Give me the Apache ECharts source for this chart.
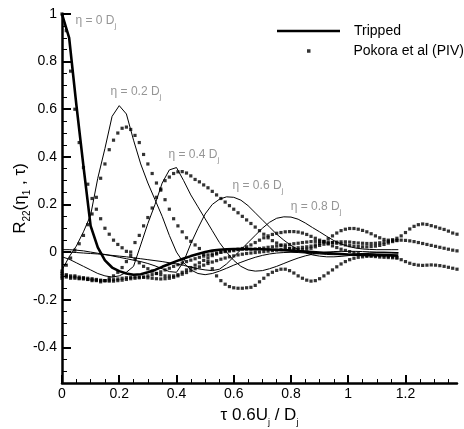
<!DOCTYPE html>
<html><head><meta charset="utf-8">
<script src="https://cdn.jsdelivr.net/npm/echarts@6/dist/echarts.min.js"></script>
<style>html,body{margin:0;padding:0;background:#fff}#c{width:464px;height:429px}</style>
</head><body><div id="c"></div>
<script>
// ---- Tripped (computed) curves ----
const tauTripped = [0,0.025,0.05,0.075,0.1,0.125,0.15,0.175,0.2,0.225,0.25,0.275,0.3,0.325,0.35,0.375,0.4,0.425,0.45,0.475,0.5,0.525,0.55,0.575,0.6,0.625,0.65,0.675,0.7,0.725,0.75,0.775,0.8,0.825,0.85,0.875,0.9,0.925,0.95,0.975,1.0,1.025,1.05,1.075,1.1,1.125,1.15,1.175];
const tripped0 = [1.0,0.9,0.62,0.36,0.11,0.02,-0.035,-0.065,-0.08,-0.09,-0.095,-0.093,-0.085,-0.075,-0.062,-0.05,-0.038,-0.027,-0.017,-0.008,0.0,0.006,0.01,0.012,0.013,0.013,0.013,0.012,0.012,0.011,0.01,0.008,0.006,0.004,0.002,0.0,-0.002,-0.004,-0.006,-0.008,-0.01,-0.011,-0.012,-0.012,-0.013,-0.013,-0.014,-0.015];
const tripped02 = [-0.076,-0.02,0.025,0.085,0.155,0.31,0.435,0.57,0.615,0.58,0.47,0.37,0.29,0.22,0.15,0.07,0.0,-0.045,-0.075,-0.09,-0.095,-0.09,-0.08,-0.068,-0.055,-0.043,-0.032,-0.022,-0.014,-0.008,-0.004,-0.002,-0.001,-0.002,-0.004,-0.006,-0.008,-0.01,-0.011,-0.011,-0.01,-0.008,-0.006,-0.004,-0.003,-0.003,-0.004,-0.005];
const tripped04 = [-0.02,-0.03,-0.045,-0.06,-0.075,-0.09,-0.1,-0.105,-0.1,-0.085,-0.06,0.03,0.12,0.2,0.29,0.345,0.355,0.3,0.24,0.19,0.14,0.09,0.04,0.0,-0.035,-0.06,-0.075,-0.08,-0.078,-0.07,-0.06,-0.048,-0.036,-0.025,-0.016,-0.009,-0.004,0.0,0.002,0.003,0.003,0.003,0.002,0.001,0.0,0.0,-0.001,-0.002];
const tripped06 = [0.01,0.01,0.008,0.005,0.0,-0.005,-0.01,-0.016,-0.022,-0.028,-0.034,-0.04,-0.048,-0.058,-0.07,-0.082,-0.085,-0.04,0.035,0.1,0.16,0.2,0.222,0.232,0.23,0.218,0.195,0.165,0.135,0.105,0.075,0.05,0.028,0.01,-0.003,-0.012,-0.017,-0.02,-0.02,-0.018,-0.015,-0.012,-0.008,-0.005,-0.003,-0.002,-0.002,-0.003];
const tripped08 = [0.0,0.0,-0.002,-0.004,-0.006,-0.008,-0.011,-0.014,-0.017,-0.02,-0.024,-0.028,-0.032,-0.036,-0.04,-0.045,-0.05,-0.056,-0.063,-0.07,-0.075,-0.078,-0.072,-0.05,-0.02,0.01,0.04,0.07,0.1,0.125,0.142,0.148,0.147,0.138,0.122,0.103,0.085,0.066,0.048,0.034,0.024,0.017,0.013,0.011,0.01,0.01,0.01,0.01];

// ---- Pokora et al (PIV) ----
const tauPIV = [0,0.015,0.03,0.045,0.06,0.075,0.09,0.105,0.12,0.135,0.15,0.165,0.18,0.195,0.21,0.225,0.24,0.255,0.27,0.285,0.3,0.315,0.33,0.345,0.36,0.375,0.39,0.405,0.42,0.435,0.45,0.465,0.48,0.495,0.51,0.525,0.54,0.555,0.57,0.585,0.6,0.615,0.63,0.645,0.66,0.675,0.69,0.705,0.72,0.735,0.75,0.765,0.78,0.795,0.81,0.825,0.84,0.855,0.87,0.885,0.9,0.915,0.93,0.945,0.96,0.975,0.99,1.005,1.02,1.035,1.05,1.065,1.08,1.095,1.11,1.125,1.14,1.155,1.17,1.185,1.2,1.215,1.23,1.245,1.26,1.275,1.29,1.305,1.32,1.335,1.35,1.365,1.38];
const piv0 = [1.0,0.93,0.76,0.6,0.46,0.355,0.285,0.225,0.18,0.14,
  0.1,0.075,0.05,0.032,0.018,0.003,-0.015,-0.03,-0.045,-0.06,
  -0.07,-0.08,-0.09,-0.095,-0.1,-0.1,-0.1,-0.095,-0.085,-0.075,
  -0.065,-0.055,-0.045,-0.035,-0.025,-0.015,-0.008,0.0,0.005,0.008,
  0.01,0.012,0.012,0.012,0.012,0.013,0.015,0.017,0.02,0.022,
  0.025,0.027,0.03,0.032,0.035,0.037,0.04,0.042,0.044,0.045,
  0.045,0.044,0.042,0.04,0.037,0.034,0.03,0.027,0.025,0.023,
  0.022,0.022,0.023,0.025,0.028,0.032,0.038,0.044,0.048];
const piv02 = [-0.08,-0.055,-0.025,0.008,0.035,0.07,0.115,0.16,0.23,0.31,
  0.37,0.43,0.47,0.5,0.52,0.525,0.515,0.49,0.46,0.41,
  0.37,0.33,0.29,0.26,0.22,0.18,0.14,0.11,0.085,0.06,
  0.045,0.03,0.015,-0.01,-0.04,-0.07,-0.1,-0.12,-0.135,-0.145,
  -0.15,-0.152,-0.152,-0.15,-0.148,-0.14,-0.125,-0.11,-0.095,-0.085,
  -0.077,-0.072,-0.072,-0.078,-0.088,-0.1,-0.11,-0.118,-0.122,-0.12,
  -0.112,-0.1,-0.088,-0.075,-0.062,-0.05,-0.04,-0.032,-0.026,-0.022,
  -0.02,-0.018,-0.016,-0.015,-0.015,-0.016,-0.018,-0.02,-0.025,-0.032,
  -0.04,-0.047,-0.052,-0.055,-0.056,-0.055,-0.054,-0.055,-0.057,-0.06,
  -0.064,-0.068,-0.072];
const piv04 = [-0.1,-0.1,-0.105,-0.105,-0.11,-0.11,-0.115,-0.12,-0.12,-0.125,
  -0.12,-0.11,-0.1,-0.085,-0.065,-0.04,0.0,0.04,0.07,0.11,
  0.145,0.185,0.23,0.265,0.3,0.315,0.33,0.337,0.338,0.332,
  0.32,0.305,0.295,0.282,0.27,0.255,0.24,0.225,0.21,0.195,
  0.18,0.165,0.15,0.135,0.12,0.105,0.09,0.075,0.06,0.048,
  0.038,0.03,0.022,0.016,0.012,0.01,0.01,0.012,0.016,0.022,
  0.028,0.033,0.037,0.04,0.042,0.043,0.043,0.042,0.04,0.038,
  0.037,0.036,0.036,0.037,0.039,0.042,0.045,0.048,0.05,0.05,
  0.049,0.047,0.044,0.04,0.036,0.032,0.028,0.024,0.02,0.016,
  0.012,0.008,0.005];
const piv06 = [-0.09,-0.095,-0.1,-0.1,-0.105,-0.108,-0.11,-0.112,-0.115,-0.118,
  -0.12,-0.122,-0.122,-0.12,-0.118,-0.115,-0.112,-0.11,-0.108,-0.105,
  -0.1,-0.095,-0.09,-0.083,-0.075,-0.068,-0.06,-0.053,-0.046,-0.04,
  -0.034,-0.028,-0.022,-0.017,-0.012,-0.008,-0.004,-0.001,0.002,0.004,
  0.006,0.01,0.015,0.022,0.03,0.04,0.05,0.06,0.068,0.074,
  0.079,0.082,0.085,0.086,0.086,0.084,0.08,0.074,0.066,0.058,
  0.05,0.042,0.034,0.026,0.019,0.012,0.007,0.002,-0.003,-0.007,
  -0.011,-0.014,-0.017,-0.019,-0.021,-0.022,-0.023,-0.024,-0.024];
const piv08 = [-0.11,-0.105,-0.11,-0.11,-0.112,-0.113,-0.115,-0.116,-0.118,-0.12,
  -0.12,-0.118,-0.116,-0.113,-0.11,-0.108,-0.106,-0.105,-0.105,-0.106,
  -0.108,-0.11,-0.112,-0.113,-0.112,-0.11,-0.106,-0.1,-0.093,-0.086,
  -0.078,-0.07,-0.062,-0.055,-0.048,-0.042,-0.036,-0.03,-0.025,-0.02,
  -0.016,-0.012,-0.009,-0.006,-0.004,-0.002,0.0,0.002,0.004,0.006,
  0.008,0.01,0.012,0.014,0.016,0.018,0.02,0.022,0.025,0.03,
  0.036,0.045,0.056,0.068,0.08,0.09,0.096,0.099,0.099,0.096,
  0.091,0.085,0.077,0.068,0.06,0.053,0.05,0.052,0.058,0.068,
  0.082,0.097,0.108,0.115,0.118,0.116,0.111,0.106,0.1,0.095,
  0.088,0.08,0.075];

// ---- ticks ----
const yMajorTicks = [-0.4,-0.2,0,0.2,0.4,0.6,0.8,1];
const yMinorTicks = [-0.5,-0.45,-0.35,-0.3,-0.25,-0.15,-0.1,-0.05,0.05,0.1,0.15,0.25,0.3,0.35,0.45,0.5,0.55,0.65,0.7,0.75,0.85,0.9,0.95];
const xMajorTicks = [0,0.2,0.4,0.6,0.8,1,1.2];
const xMinorTicks = [0.05,0.1,0.15,0.25,0.3,0.35,0.45,0.5,0.55,0.65,0.7,0.75,0.85,0.9,0.95,1.05,1.1,1.15,1.25,1.3,1.35];

// ---- annotations ----
const annEta = ['0','0.2','0.4','0.6','0.8'];
const annTau = [0.045,0.168,0.37,0.594,0.797];
const annR = [0.97,0.672,0.408,0.28,0.19];

const FONT = '"Liberation Sans", Arial, Helvetica, sans-serif';
const zip = (xs, ys) => ys.map((v, i) => [xs[i], v]);

const chart = echarts.init(document.getElementById('c'), null, {renderer: 'canvas'});

const lineSeries = (name, ys, w) => ({
  type: 'line', name: name, data: zip(tauTripped, ys), showSymbol: false, symbol: 'none',
  lineStyle: {color: '#000', width: w}, itemStyle: {color: '#000'}, z: 3, silent: true
});
const pivSeries = (name, ys) => ({
  type: 'scatter', name: name, data: zip(tauPIV, ys), symbol: 'rect', symbolSize: 3.2,
  itemStyle: {color: '#000'}, z: 4, silent: true
});

const axisCommon = {
  type: 'value', splitLine: {show: false}
};

chart.setOption({
  animation: false,
  backgroundColor: '#fff',
  grid: {left: 62, right: 7, top: 14, bottom: 46, containLabel: false, outerBoundsMode: 'none'},
  legend: [
    {data: [{name: 'Tripped', icon: 'rect'}], left: 272, top: 19, itemWidth: 63, itemHeight: 2.6, selectedMode: false,
     textStyle: {fontSize: 14, color: '#000', fontFamily: FONT, padding: [0, 0, 0, 9]}},
    {data: [{name: 'Pokora et al (PIV)', icon: 'rect'}], left: 302, top: 39, itemWidth: 3.5, itemHeight: 3.5, selectedMode: false,
     textStyle: {fontSize: 14, color: '#000', fontFamily: FONT, padding: [0, 0, 0, 38]}}
  ],
  xAxis: [
    Object.assign({}, axisCommon, {
      min: 0, max: 1.38, position: 'bottom',
      axisLine: {show: true, onZero: false, lineStyle: {color: '#000', width: 2.5}},
      axisTick: {show: true, inside: true, length: 8, customValues: xMajorTicks, lineStyle: {color: '#000', width: 2}},
      axisLabel: {customValues: xMajorTicks, fontSize: 14, color: '#000', fontFamily: FONT, margin: 4},
      name: 'τ 0.6U{s|j} / D{s|j}', nameLocation: 'middle', nameGap: 20, nameMoveOverlap: false,
      nameTextStyle: {fontSize: 17, color: '#000', fontFamily: FONT, lineHeight: 24,
        rich: {s: {fontSize: 9, lineHeight: 11, verticalAlign: 'bottom', color: '#000', fontFamily: FONT}}}
    }),
    Object.assign({}, axisCommon, {
      min: 0, max: 1.38, position: 'bottom',
      axisLine: {show: false, onZero: false},
      axisTick: {show: true, inside: true, length: 4, customValues: xMinorTicks, lineStyle: {color: '#000', width: 1}},
      axisLabel: {show: false}
    })
  ],
  yAxis: [
    Object.assign({}, axisCommon, {
      min: -0.55, max: 1, position: 'left',
      axisLine: {show: true, onZero: false, lineStyle: {color: '#000', width: 2.5}},
      axisTick: {show: true, inside: true, length: 9, customValues: yMajorTicks, lineStyle: {color: '#000', width: 2}},
      axisLabel: {customValues: yMajorTicks, fontSize: 14, color: '#000', fontFamily: FONT, margin: 5},
      name: 'R{s|22}(η{s|1} , τ)', nameLocation: 'middle', nameGap: 30, nameMoveOverlap: false,
      nameTextStyle: {fontSize: 17, color: '#000', fontFamily: FONT, lineHeight: 24,
        rich: {s: {fontSize: 10, lineHeight: 11, verticalAlign: 'bottom', color: '#000', fontFamily: FONT}}}
    }),
    Object.assign({}, axisCommon, {
      min: -0.55, max: 1, position: 'left',
      axisLine: {show: false, onZero: false},
      axisTick: {show: true, inside: true, length: 5, customValues: yMinorTicks, lineStyle: {color: '#000', width: 1}},
      axisLabel: {show: false}
    })
  ],
  series: [
    lineSeries('Tripped', tripped0, 2.6),
    lineSeries('Tripped η=0.2', tripped02, 1),
    lineSeries('Tripped η=0.4', tripped04, 1),
    lineSeries('Tripped η=0.6', tripped06, 1),
    lineSeries('Tripped η=0.8', tripped08, 1),
    pivSeries('Pokora et al (PIV)', piv0),
    pivSeries('PIV η=0.2', piv02),
    pivSeries('PIV η=0.4', piv04),
    pivSeries('PIV η=0.6', piv06),
    pivSeries('PIV η=0.8', piv08),
    {
      type: 'scatter', name: 'labels', symbolSize: 1, itemStyle: {color: 'rgba(0,0,0,0)'}, silent: true, z: 5,
      data: annEta.map((e, i) => ({value: [annTau[i], annR[i]], name: e})),
      label: {
        show: true, position: 'right', distance: 0,
        formatter: p => '{a|η = ' + p.name + ' D}{s|j}',
        rich: {
          a: {fontSize: 12, lineHeight: 18, color: '#7a7a7a', fontFamily: FONT},
          s: {fontSize: 8, lineHeight: 9, verticalAlign: 'bottom', color: '#7a7a7a', fontFamily: FONT}
        }
      }
    }
  ]
});
</script>
</body></html>
